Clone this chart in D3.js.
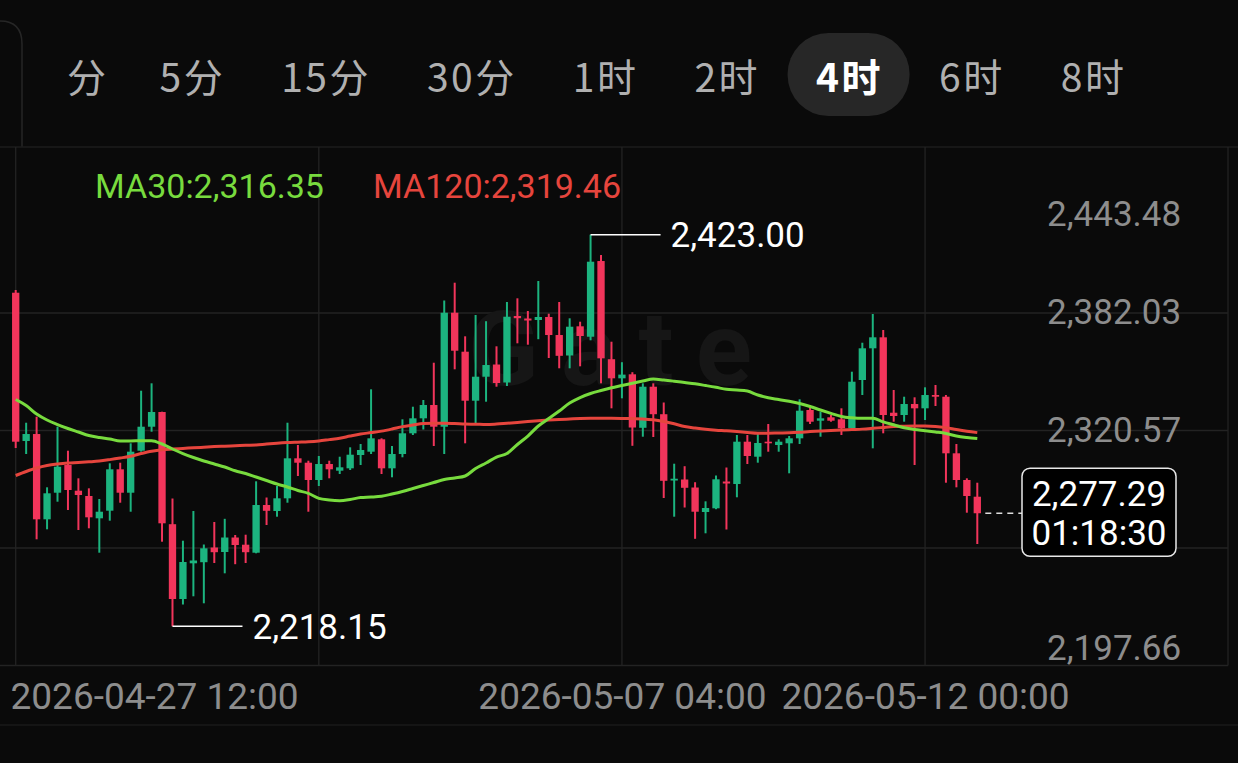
<!DOCTYPE html>
<html><head><meta charset="utf-8">
<script src="https://cdn.jsdelivr.net/npm/d3@7"></script>
<style>html,body{margin:0;padding:0;background:#0a0a0a;overflow:hidden}svg{display:block}</style>
</head><body>
<svg id="c" width="1238" height="763"></svg>
<script>
// ---------- DATA ----------
const tabs = ["分","5分","15分","30分","1时","2时","4时","6时","8时"];
const activeTab = "4时";
const firstCandleTime = "2026-04-27 12:00";
const candleHours = 4;
const opens = [2392.63,2315.07,2318.73,2274.12,2288.03,2302.52,2289.08,2286.31,2274.64,2278.62,
2300.27,2288.03,2310.00,2322.55,2330.24,2271.56,2232.44,2251.11,2251.68,2259.37,
2257.02,2264.60,2260.84,2256.65,2281.60,2278.46,2285.10,2306.02,2303.72,2294.68,
2303.04,2299.54,2300.79,2307.75,2309.48,2315.96,2300.79,2308.27,2319.10,2326.94,
2333.90,2322.55,2382.17,2361.78,2336.15,2348.70,2355.08,2345.67,2380.45,2379.14,
2378.36,2379.93,2370.51,2359.79,2375.06,2369.62,2409.21,2357.85,2347.86,2349.96,
2321.98,2343.47,2329.09,2294.41,2294.94,2290.75,2277.94,2279.87,2293.89,2292.58,
2314.71,2306.86,2314.71,2312.98,2313.87,2316.48,2331.29,2325.69,2327.47,2326.42,
2321.72,2346.98,2363.56,2369.31,2329.87,2328.67,2334.42,2332.17,2339.13,2338.24,
2308.64,2294.68,2285.94];
const highs = [2394.05,2324.64,2327.78,2290.86,2322.55,2310.00,2295.56,2290.33,2284.74,2303.41,
2303.72,2313.87,2341.38,2345.25,2330.40,2285.00,2262.93,2278.46,2260.94,2272.71,
2274.38,2265.91,2266.07,2294.00,2285.52,2291.54,2324.64,2312.98,2304.77,2307.23,
2304.77,2306.86,2311.78,2313.50,2342.11,2316.48,2312.46,2326.42,2333.01,2336.52,
2356.02,2388.56,2397.87,2369.83,2380.97,2377.73,2364.60,2387.77,2389.71,2383.06,
2398.75,2381.65,2387.77,2379.25,2377.47,2423.00,2412.35,2367.01,2356.29,2351.06,
2345.25,2345.25,2335.21,2303.20,2301.89,2293.52,2283.53,2297.03,2301.21,2318.21,
2318.21,2319.00,2323.96,2315.96,2317.69,2336.88,2332.70,2330.40,2328.67,2332.17,
2351.32,2366.48,2381.49,2373.13,2341.75,2338.24,2337.93,2343.16,2344.36,2339.13,
2313.50,2295.56,2293.26];
const lows = [2311.41,2308.27,2263.66,2268.89,2283.33,2278.98,2268.52,2269.41,2256.65,2273.39,
2282.80,2278.09,2309.50,2319.94,2262.41,2218.15,2229.56,2233.85,2230.19,2251.27,
2245.87,2250.64,2251.27,2256.34,2271.14,2275.48,2282.80,2296.77,2278.09,2291.54,
2295.56,2297.81,2299.91,2302.52,2308.27,2297.81,2296.09,2306.55,2318.21,2321.09,
2312.46,2308.27,2352.57,2313.87,2324.33,2335.63,2343.47,2343.84,2366.17,2365.44,
2368.32,2358.48,2353.10,2353.10,2354.14,2367.74,2345.25,2332.17,2337.41,2312.56,
2317.32,2317.16,2285.26,2275.48,2280.29,2263.92,2266.80,2279.40,2268.79,2285.63,
2303.04,2303.73,2309.48,2309.48,2298.18,2313.50,2323.96,2317.32,2325.17,2318.21,
2321.35,2339.13,2311.25,2319.10,2325.17,2325.17,2302.52,2326.06,2333.38,2293.26,
2290.85,2277.58,2261.20];
const closes = [2314.71,2318.73,2274.12,2287.72,2301.63,2289.45,2286.83,2275.17,2278.09,2300.27,
2288.03,2309.48,2322.55,2330.24,2272.03,2232.44,2251.79,2252.58,2258.95,2256.91,
2264.60,2260.68,2256.91,2281.60,2278.57,2285.10,2306.02,2303.72,2294.68,2303.04,
2300.27,2301.32,2307.91,2310.37,2316.48,2300.79,2308.27,2319.10,2326.94,2333.90,
2322.55,2382.17,2362.30,2336.15,2348.70,2354.82,2345.41,2380.08,2379.30,2378.10,
2379.93,2370.51,2359.63,2374.85,2369.99,2408.85,2358.32,2347.86,2349.80,2322.13,
2343.47,2329.09,2294.26,2295.35,2290.60,2278.09,2280.03,2295.04,2292.84,2314.71,
2307.23,2314.03,2313.87,2314.71,2316.48,2330.92,2325.17,2326.94,2325.69,2321.72,
2346.09,2363.56,2369.31,2328.67,2328.15,2334.42,2332.17,2339.13,2338.24,2308.64,
2294.68,2286.31,2277.29];
const ma30 = [2336.78,2333.64,2329.19,2326.06,2323.70,2321.61,2319.78,2317.95,2316.90,2316.12,
2315.07,2315.07,2315.23,2315.23,2313.50,2310.89,2308.53,2306.44,2304.61,2303.04,
2301.47,2299.54,2298.07,2296.24,2294.41,2292.58,2291.01,2289.18,2287.72,2285.10,
2284.21,2283.85,2284.48,2285.52,2285.78,2286.20,2287.35,2288.66,2290.23,2291.80,
2293.37,2294.94,2295.72,2296.77,2300.69,2303.57,2306.70,2308.53,2313.24,2317.69,
2322.92,2326.84,2330.76,2334.95,2337.82,2339.92,2341.48,2342.90,2344.10,2345.30,
2346.45,2347.50,2346.98,2346.35,2345.67,2344.99,2344.10,2343.16,2342.11,2341.75,
2341.22,2339.13,2337.67,2336.78,2335.84,2334.69,2333.12,2331.29,2329.56,2327.89,
2327.21,2326.94,2326.94,2325.11,2323.55,2322.03,2321.09,2320.46,2319.78,2319.00,
2317.69,2316.90,2316.35];
const ma120 = [2297.03,2299.12,2300.95,2302.26,2303.04,2303.57,2303.83,2304.19,2304.61,2305.34,
2306.18,2307.12,2308.53,2309.74,2310.52,2310.89,2311.20,2311.52,2311.83,2312.14,
2312.35,2312.56,2312.82,2312.98,2313.50,2313.92,2314.24,2314.45,2314.65,2315.07,
2315.80,2316.54,2317.69,2318.73,2319.47,2320.25,2321.35,2322.60,2323.44,2324.23,
2324.33,2324.33,2324.17,2323.96,2323.86,2323.70,2323.96,2324.38,2324.80,2325.22,
2325.64,2326.00,2326.32,2326.58,2326.84,2326.94,2326.94,2326.94,2326.89,2326.79,
2326.63,2326.16,2325.27,2324.07,2322.66,2321.87,2321.19,2320.72,2320.41,2319.99,
2319.52,2319.10,2319.15,2319.26,2319.36,2319.62,2319.99,2320.30,2320.56,2320.77,
2321.03,2321.29,2321.71,2322.18,2322.60,2322.76,2322.86,2322.92,2322.71,2322.08,
2321.09,2320.20,2319.46];
const priceDomain = [2197.66, 2443.48];
const priceGridTicks = [2382.03, 2320.57, 2259.11, 2197.66];
const priceLabelTicks = [2443.48, 2382.03, 2320.57, 2197.66]; // 2,259.11 sits under the last-price box
const timeGridTicks = ["2026-04-27 12:00","2026-05-02 08:00","2026-05-07 04:00","2026-05-12 00:00"];
const timeLabelTicks = ["2026-04-27 12:00","2026-05-07 04:00","2026-05-12 00:00"];
const lastPrice = 2277.29;
const countdown = "01:18:30";
const ma30Label = "MA30:2,316.35";
const ma120Label = "MA120:2,319.46";
const watermark = "Gate";

// ---------- STYLE ----------
const C = {bg:"#0a0a0a", grid:"#232323", up:"#1cb47f", down:"#f2355b", ma30:"#78db3e", ma120:"#e6453d",
  axisText:"#8d8d8d", tabText:"#b0b0b0", pill:"#272727"};
const numFont = "Roboto, 'Noto Sans', sans-serif";
const cjkFont = "'Noto Sans CJK SC', 'Noto Sans', sans-serif";

const svg = d3.select("#c");
const W = 1238, H = 763;
svg.append("rect").attr("width", W).attr("height", H).attr("fill", C.bg);

// card edge top-left
svg.append("path").attr("d","M0,21 Q22,21 22,44 L22,147").attr("fill","none").attr("stroke","#262626").attr("stroke-width",1.5);

// ---------- TABS ----------
const tabG = svg.append("g");
let tx = 67;
const tabGap = 56;
tabs.forEach((t, i) => {
  const isActive = t === activeTab;
  const txt = tabG.append("text").attr("x", tx).attr("y", 75).attr("dominant-baseline","central")
    .attr("font-family", cjkFont).attr("font-size", 39).attr("letter-spacing", 2.5).attr("font-weight", isActive ? 700 : 400)
    .attr("fill", isActive ? "#ffffff" : C.tabText).text(t);
  const w = txt.node().getComputedTextLength();
  if (isActive) {
    tabG.insert("rect", "text").attr("x", tx + w/2 - 62).attr("y", 33).attr("width", 122).attr("height", 83)
      .attr("rx", 41).attr("fill", C.pill);
  }
  tx += w + (i === 0 ? tabGap - 5 : tabGap);
});
svg.append("line").attr("x1",0).attr("x2",W).attr("y1",147).attr("y2",147).attr("stroke","#1c1c1c").attr("stroke-width",1.5);

// ---------- SCALES ----------
const parse = d3.timeParse("%Y-%m-%d %H:%M");
const t0 = parse(firstCandleTime);
const times = opens.map((_, i) => d3.timeHour.offset(t0, candleHours * i));
const x = d3.scaleTime().domain([times[0], times[times.length-1]]).range([15.7, 977.3]);
const y = d3.scaleLinear().domain(priceDomain).range([665.5, 195.5]);
const step = x(times[1]) - x(times[0]);
const bodyW = step * 0.7;

// ---------- GRID ----------
const grid = svg.append("g");
priceGridTicks.forEach(v => {
  grid.append("line").attr("x1",0).attr("x2",1228).attr("y1",y(v)).attr("y2",y(v)).attr("stroke",C.grid).attr("stroke-width",1.3);
});
timeGridTicks.forEach(s => {
  const xx = x(parse(s));
  grid.append("line").attr("x1",xx).attr("x2",xx).attr("y1",147).attr("y2",y(priceDomain[0])).attr("stroke",C.grid).attr("stroke-width",1.3);
});
grid.append("line").attr("x1",1228).attr("x2",1228).attr("y1",147).attr("y2",y(priceDomain[0])).attr("stroke",C.grid).attr("stroke-width",1.3);
svg.append("line").attr("x1",0).attr("x2",W).attr("y1",725).attr("y2",725).attr("stroke","#1a1a1a").attr("stroke-width",1.3);

// watermark
svg.append("text").attr("x", 468).attr("y", 385).attr("font-family", numFont).attr("font-weight", 700)
  .attr("font-size", 104).attr("letter-spacing", 22).attr("fill", "#161616").text(watermark);

// ---------- CANDLES ----------
const candles = svg.append("g").selectAll("g").data(opens.map((o,i)=>({t:times[i],o,h:highs[i],l:lows[i],c:closes[i]})))
  .join("g");
candles.append("line").attr("x1", d=>x(d.t)).attr("x2", d=>x(d.t)).attr("y1", d=>y(d.h)).attr("y2", d=>y(d.l))
  .attr("stroke", d => d.c >= d.o ? C.up : C.down).attr("stroke-width", 2);
candles.append("rect").attr("x", d=>x(d.t)-bodyW/2).attr("width", bodyW)
  .attr("y", d=>y(Math.max(d.o,d.c))).attr("height", d=>Math.max(1.5, Math.abs(y(d.o)-y(d.c))))
  .attr("fill", d => d.c >= d.o ? C.up : C.down);

// ---------- MA LINES ----------
const line = d3.line().x((d,i)=>x(times[i])).y(d=>y(d)).curve(d3.curveMonotoneX);
svg.append("path").datum(ma120).attr("d", line).attr("fill","none").attr("stroke",C.ma120).attr("stroke-width",3);
svg.append("path").datum(ma30).attr("d", line).attr("fill","none").attr("stroke",C.ma30).attr("stroke-width",3);

// MA labels
svg.append("text").attr("x",95).attr("y",186).attr("dominant-baseline","central").attr("font-family",numFont)
  .attr("font-size",34).attr("fill",C.ma30).text(ma30Label);
svg.append("text").attr("x",373).attr("y",186).attr("dominant-baseline","central").attr("font-family",numFont)
  .attr("font-size",34).attr("fill",C.ma120).text(ma120Label);

// ---------- PRICE AXIS ----------
const fmt = d3.format(",.2f");
const yAxis = svg.append("g").attr("transform","translate(1047,0)")
  .call(d3.axisRight(y).tickValues(priceLabelTicks).tickSize(0).tickPadding(0).tickFormat(fmt));
yAxis.select(".domain").remove();
yAxis.selectAll("text").attr("font-family",numFont).attr("font-size",35).attr("fill",C.axisText)
  .attr("text-anchor","start").attr("dy", d => d === priceDomain[1] ? "0.85em" : d === priceDomain[0] ? "-0.16em" : "0.3em");

// ---------- TIME AXIS ----------
const xAxis = svg.append("g").attr("transform","translate(0,"+y(priceDomain[0])+")")
  .call(d3.axisBottom(x).tickValues(timeLabelTicks.map(parse)).tickSize(0).tickPadding(0)
    .tickFormat(d3.timeFormat("%Y-%m-%d %H:%M")));
xAxis.select(".domain").remove();
xAxis.selectAll("text").attr("font-family",numFont).attr("font-size",37).attr("fill",C.axisText)
  .attr("dy","1.17em");
xAxis.selectAll(".tick").each(function(d, i){
  if (i === 0) {
    d3.select(this).select("text").attr("text-anchor","start").attr("x", 10 - x(d));
  }
});

// ---------- HIGH / LOW MARKERS ----------
const hiIdx = d3.maxIndex(highs), loIdx = d3.minIndex(lows);
function marker(i, v) {
  const xx = x(times[i]), yy = y(v);
  svg.append("line").attr("x1",xx).attr("x2",xx+70).attr("y1",yy).attr("y2",yy).attr("stroke","#fff").attr("stroke-width",1.5);
  svg.append("text").attr("x",xx+80).attr("y",yy+1).attr("dominant-baseline","central").attr("font-family",numFont)
    .attr("font-size",35).attr("fill","#fff").text(fmt(v));
}
marker(hiIdx, highs[hiIdx]);
marker(loIdx, lows[loIdx]);

// ---------- LAST PRICE ----------
const ly = y(lastPrice);
svg.append("line").attr("x1", x(times[times.length-1]) + 8).attr("x2", 1022).attr("y1", ly).attr("y2", ly)
  .attr("stroke","#ddd").attr("stroke-width",1.5).attr("stroke-dasharray","6,5");
svg.append("rect").attr("x",1022).attr("y",ly-45).attr("width",154).attr("height",88).attr("rx",8)
  .attr("fill","#000").attr("stroke","#e8e8e8").attr("stroke-width",1.5);
svg.append("text").attr("x",1099).attr("y",ly-19).attr("text-anchor","middle").attr("dominant-baseline","central")
  .attr("font-family",numFont).attr("font-size",35).attr("fill","#fff").text(fmt(lastPrice));
svg.append("text").attr("x",1099).attr("y",ly+20).attr("text-anchor","middle").attr("dominant-baseline","central")
  .attr("font-family",numFont).attr("font-size",35).attr("fill","#fff").text(countdown);
</script>
</body></html>
